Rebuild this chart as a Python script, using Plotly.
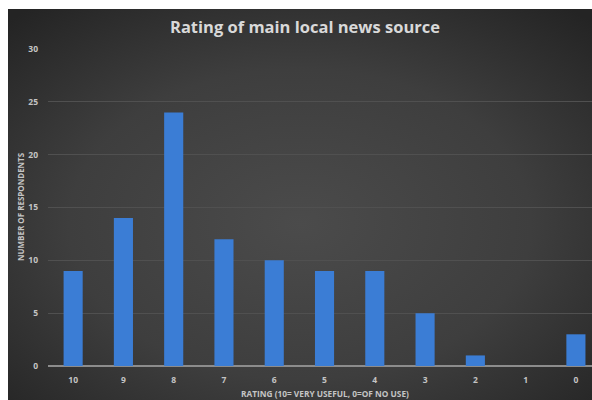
import base64
import plotly.graph_objects as go

# Survey results: rating of main local news source
ratings = ["10", "9", "8", "7", "6", "5", "4", "3", "2", "1", "0"]
respondents = [9, 14, 24, 12, 10, 9, 9, 5, 1, 0, 3]
y_ticks = [0, 5, 10, 15, 20, 25, 30]

title_text = "Rating of main local news source"
x_title = "RATING (10= VERY USEFUL, 0=OF NO USE)"
y_title = "NUMBER OF RESPONDENTS"

W, H = 592, 400
L, R, T, B = 48, 0, 49, 34  # plot area margins in px

# dark radial-gradient panel behind the chart
svg = (
    "<svg xmlns='http://www.w3.org/2000/svg' width='584' height='391' preserveAspectRatio='none'>"
    "<defs><radialGradient id='g' cx='0.5' cy='0.55' r='0.72'>"
    "<stop offset='0' stop-color='#4b4b4b'/>"
    "<stop offset='0.55' stop-color='#3e3e3e'/>"
    "<stop offset='1' stop-color='#242424'/>"
    "</radialGradient></defs>"
    "<rect width='584' height='391' fill='url(#g)'/></svg>"
)
bg_src = "data:image/svg+xml;base64," + base64.b64encode(svg.encode()).decode()

pw, ph = W - L - R, H - T - B


def px_x(p):
    return (p - L) / pw


def px_y(p):
    return (H - B - p) / ph


fig = go.Figure(
    go.Bar(
        x=ratings,
        y=respondents,
        marker=dict(color="#3b7dd5", line=dict(width=0)),
        width=0.38,
    )
)

fig.add_layout_image(
    source=bg_src,
    xref="paper", yref="paper",
    x=px_x(8), y=px_y(9),
    sizex=(W - 8) / pw, sizey=(H - 9) / ph,
    xanchor="left", yanchor="top",
    sizing="stretch", layer="below",
)

tick_font = dict(family="Open Sans, DejaVu Sans, sans-serif", size=8.5, color="#c4c4c4",
                 weight="bold")

fig.update_layout(
    width=W, height=H,
    margin=dict(l=L, r=R, t=T, b=B, pad=0),
    paper_bgcolor="white",
    plot_bgcolor="rgba(0,0,0,0)",
    showlegend=False,
    xaxis=dict(
        type="category",
        range=[-0.5, 10.32],
        showgrid=False,
        showline=False,
        zeroline=False,
        ticks="",
        tickfont=tick_font,
        ticklabelstandoff=7,
    ),
    yaxis=dict(
        range=[0, 30],
        tickvals=y_ticks,
        showgrid=True,
        gridcolor="#505050",
        gridwidth=1,
        zeroline=True,
        zerolinecolor="#8c8c8c",
        zerolinewidth=2,
        showline=False,
        ticks="",
        tickfont=tick_font,
        ticklabelstandoff=9,
    ),
    annotations=[
        dict(
            text="<b>" + title_text + "</b>",
            xref="paper", yref="paper",
            x=px_x(305), y=px_y(26),
            xanchor="center", yanchor="middle",
            showarrow=False,
            font=dict(family="Open Sans, DejaVu Sans, sans-serif", size=16.5, color="#d9d9d9"),
        ),
        dict(
            text="<b>" + x_title + "</b>",
            xref="paper", yref="paper",
            x=px_x(325), y=px_y(393),
            xanchor="center", yanchor="middle",
            showarrow=False,
            font=dict(family="Open Sans, DejaVu Sans, sans-serif", size=8.3, color="#c4c4c4"),
        ),
        dict(
            text="<b>" + y_title + "</b>",
            xref="paper", yref="paper",
            x=px_x(20), y=px_y(207),
            xanchor="center", yanchor="middle",
            textangle=-90,
            showarrow=False,
            font=dict(family="Open Sans, DejaVu Sans, sans-serif", size=8, color="#c4c4c4"),
        ),
    ],
)

fig.write_html("out.html")
